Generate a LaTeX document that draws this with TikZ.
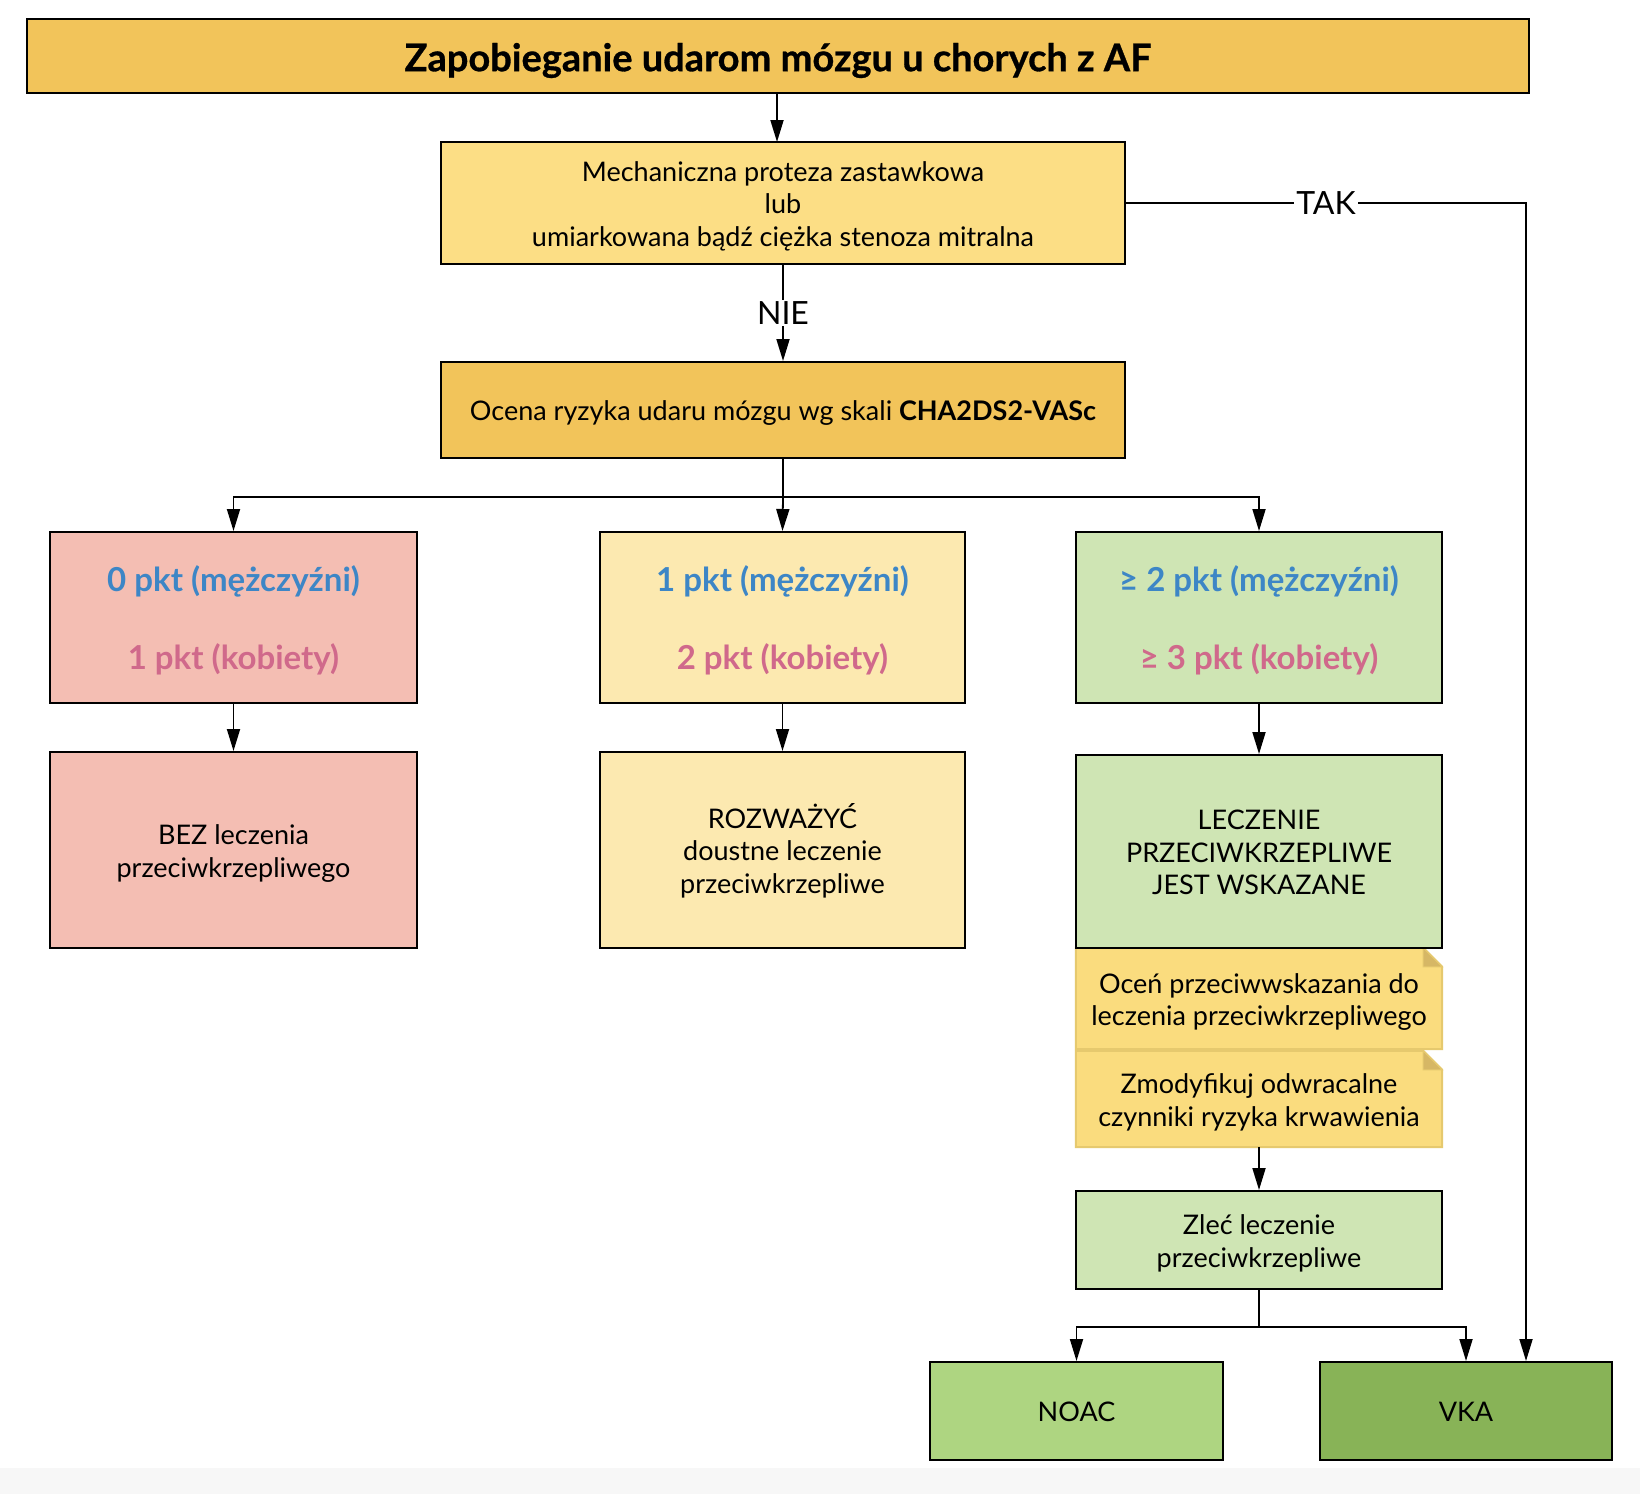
\documentclass[tikz,border=0pt]{standalone}
\usepackage{fontspec}
\setmainfont{Lato}
\newfontfamily\heavyfont{Lato}[BoldFeatures={FakeBold=0.8}]
\usetikzlibrary{arrows.meta,calc}
\newcommand\tstrut{\rule[-0.3em]{0pt}{1.4em}}
\newcommand\bstrut{\rule[-0.3em]{0pt}{0.3em}}
\definecolor{cTitle}{HTML}{F2C45A}
\definecolor{cMech}{HTML}{FCDE85}
\definecolor{cPink}{HTML}{F4BEB3}
\definecolor{cYel}{HTML}{FCE9B0}
\definecolor{cGreen}{HTML}{CFE5B4}
\definecolor{cNote}{HTML}{FADC7E}
\definecolor{cNoteLine}{HTML}{E6C96E}
\definecolor{cFold}{HTML}{D6B765}
\definecolor{cNoac}{HTML}{AED581}
\definecolor{cVka}{HTML}{88B357}
\definecolor{cBlueT}{HTML}{3D86C6}
\definecolor{cPinkT}{HTML}{D0698B}
\tikzset{
  box/.style={draw=black, line width=2pt, align=center, inner sep=0pt,
    font=\fontsize{27}{32.5}\selectfont},
  score/.style={box, minimum height=171pt, font=\fontsize{33}{78}\selectfont\bfseries},
  notebox/.style={align=center, inner sep=0pt, minimum width=366pt,
    font=\fontsize{27}{32.5}\selectfont},
  conn/.style={line width=1.8pt, -{Triangle[length=22pt,width=13pt]}},
  plain/.style={line width=1.8pt},
  lbl/.style={fill=white, inner sep=2pt, font=\fontsize{32}{36}\selectfont},
}
\begin{document}
\begin{tikzpicture}[x=1pt,y=-1pt]
\useasboundingbox (0,0) rectangle (1640,1494);
\fill[white] (0,0) rectangle (1640,1494);
\fill[black!3] (0,1468) rectangle (1640,1494);

% title
\node[box, fill=cTitle, minimum width=1502pt, minimum height=74pt,
  font=\fontsize{38}{44}\selectfont\heavyfont\bfseries] (title) at (778,56)
  {\tstrut Zapobieganie udarom mózgu u chorych z AF};

\node[box, fill=cMech, minimum width=684pt, minimum height=122pt] (mech) at (783,203)
  {\tstrut Mechaniczna proteza zastawkowa\\lub\\umiarkowana bądź ciężka stenoza mitralna\bstrut};

\node[box, fill=cTitle, minimum width=684pt, minimum height=96pt] (ocena) at (783,410)
  {\tstrut Ocena ryzyka udaru mózgu wg skali \textbf{CHA2DS2-VASc}};

% scores
\node[score, fill=cPink, minimum width=367pt] (sA) at (233.5,617.5)
  {\tstrut\textcolor{cBlueT}{0 pkt (mężczyźni)}\\\textcolor{cPinkT}{1 pkt (kobiety)}\bstrut};
\node[score, fill=cYel, minimum width=365pt] (sB) at (782.5,617.5)
  {\tstrut\textcolor{cBlueT}{1 pkt (mężczyźni)}\\\textcolor{cPinkT}{2 pkt (kobiety)}\bstrut};
\node[score, fill=cGreen, minimum width=366pt] (sC) at (1259,617.5)
  {\tstrut\textcolor{cBlueT}{≥ 2 pkt (mężczyźni)}\\\textcolor{cPinkT}{≥ 3 pkt (kobiety)}\bstrut};

% decisions
\node[box, fill=cPink, minimum width=367pt, minimum height=196pt] (dA) at (233.5,850)
  {\tstrut BEZ leczenia\\przeciwkrzepliwego\bstrut};
\node[box, fill=cYel, minimum width=365pt, minimum height=196pt] (dB) at (782.5,850)
  {\tstrut ROZWAŻYĆ\\doustne leczenie\\przeciwkrzepliwe\bstrut};

% notes (drawn before dC so its border lies on top)
\node[notebox, minimum height=101pt] (n1) at (1259,998.5) {};
\node[notebox, minimum height=96pt] (n2) at (1259,1099) {};
\foreach \n in {n1,n2}{
  \fill[cNote, draw=cNoteLine, line width=2pt]
    (\n.south west) -- (\n.north west) -- ([xshift=-19pt]\n.north east)
    -- ([yshift=-19pt]\n.north east) -- (\n.south east) -- cycle;
  \fill[cFold, draw=cNoteLine, line width=1pt]
    ([xshift=-19pt]\n.north east) -- ([xshift=-19pt,yshift=-19pt]\n.north east)
    -- ([yshift=-19pt]\n.north east) -- cycle;
}
\node[notebox] at (n1.center) {\tstrut Oceń przeciwwskazania do\\leczenia przeciwkrzepliwego\bstrut};
\node[notebox] at (n2.center) {\tstrut Zmodyfikuj odwracalne\\czynniki ryzyka krwawienia\bstrut};

\node[box, fill=cGreen, minimum width=366pt, minimum height=193pt] (dC) at (1259,851.5)
  {\tstrut LECZENIE\\PRZECIWKRZEPLIWE\\JEST WSKAZANE\bstrut};

\node[box, fill=cGreen, minimum width=366pt, minimum height=98pt] (zlec) at (1259,1240)
  {\tstrut Zleć leczenie\\przeciwkrzepliwe\bstrut};

\node[box, fill=cNoac, minimum width=293pt, minimum height=98pt] (noac) at (1076.5,1411) {\tstrut NOAC};
\node[box, fill=cVka, minimum width=292pt, minimum height=98pt] (vka) at (1466,1411) {\tstrut VKA};

% connectors
\draw[conn] (title.south -| 777,0) -- (777,142);
\draw[conn] (mech.south) -- node[lbl]{NIE} (ocena.north);
\draw[conn] (mech.east) -| node[lbl,pos=0.25]{TAK} ([xshift=60pt]vka.north);

\coordinate (j1) at ($(ocena.south)+(0,38)$);
\draw[plain] (ocena.south) -- (j1);
\draw[conn] (j1) -| (sA.north);
\draw[conn] (j1) -- (sB.north);
\draw[conn] (j1) -| (sC.north);

\draw[conn] (sA.south) -- (dA.north);
\draw[conn] (sB.south) -- (dB.north);
\draw[conn] (sC.south) -- (dC.north);
\draw[conn] (n2.south) -- (zlec.north);

\coordinate (j2) at ($(zlec.south)+(0,37)$);
\draw[plain] (zlec.south) -- (j2);
\draw[conn] (j2) -| (noac.north);
\draw[conn] (j2) -| (vka.north);
\end{tikzpicture}
\end{document}
